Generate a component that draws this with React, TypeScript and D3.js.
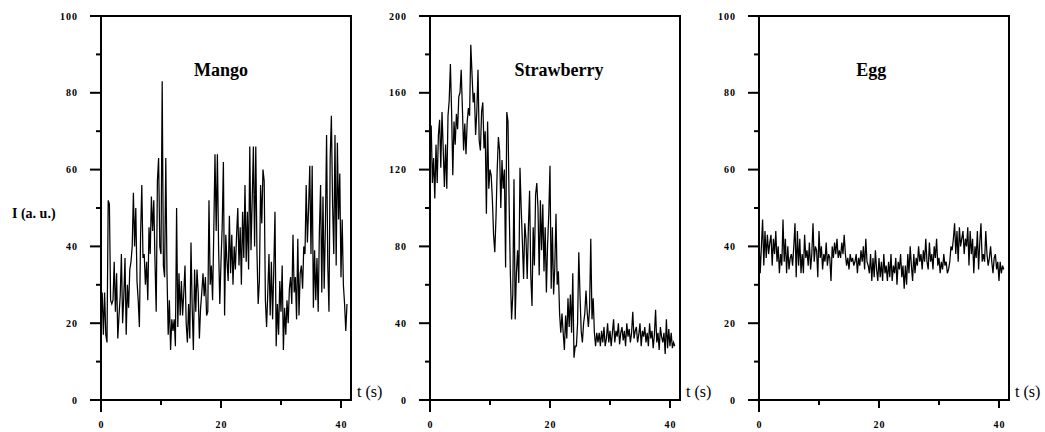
import React from "react";
import * as d3 from "d3";

const TIME_STEP = 0.2;

const mango = [
  20, 28, 17, 28, 17, 15, 52, 51, 26, 25,
  26, 36, 23, 33, 16, 22, 27, 38, 20, 27,
  37, 17, 30, 24, 34, 36, 40, 54, 40, 50,
  31, 26, 19, 43, 56, 37, 38, 30, 36, 26,
  45, 38, 53, 44, 52, 36, 23, 57, 63, 40,
  38, 83, 35, 32, 63, 33, 17, 26, 13, 21,
  18, 21, 14, 50, 19, 33, 22, 31, 22, 28,
  35, 20, 15, 25, 16, 41, 24, 13, 34, 23,
  34, 28, 16, 24, 28, 33, 27, 32, 22, 23,
  52, 30, 35, 26, 44, 64, 44, 64, 40, 25,
  36, 45, 62, 22, 43, 36, 31, 48, 33, 43,
  30, 40, 34, 43, 50, 35, 45, 30, 49, 37,
  56, 36, 49, 34, 66, 39, 52, 66, 40, 66,
  38, 25, 31, 56, 46, 60, 57, 26, 19, 28,
  38, 22, 36, 21, 34, 49, 14, 25, 17, 31,
  23, 35, 13, 24, 17, 26, 20, 29, 32, 25,
  43, 28, 32, 21, 42, 22, 33, 35, 29, 40,
  38, 56, 41, 50, 61, 38, 61, 24, 39, 26,
  37, 23, 44, 56, 28, 53, 29, 45, 69, 35,
  23, 63, 74, 51, 38, 69, 35, 67, 47, 59,
  32, 47, 30, 25, 18, 25,
];

const strawberry = [
  130, 143, 113, 126, 105, 133, 113, 138, 146, 121,
  150, 131, 111, 133, 110, 148, 156, 175, 150, 117,
  145, 133, 149, 141, 158, 160, 172, 152, 130, 144,
  128, 145, 152, 148, 185, 170, 155, 160, 138, 150,
  172, 135, 130, 150, 155, 131, 140, 97, 145, 110,
  120, 117, 104, 86, 77, 95, 120, 137, 130, 100,
  125, 110, 120, 69, 150, 145, 100, 65, 42, 55,
  115, 42, 66, 78, 61, 121, 100, 82, 63, 92,
  84, 63, 90, 109, 65, 49, 90, 70, 107, 113,
  100, 65, 104, 78, 102, 67, 90, 56, 81, 97,
  122, 58, 90, 55, 69, 97, 60, 67, 45, 35,
  45, 35, 26, 44, 32, 53, 38, 55, 35, 66,
  22, 28, 28, 40, 77, 55, 36, 30, 40, 45,
  57, 46, 38, 48, 84, 42, 53, 35, 28, 35,
  30, 35, 28, 36, 30, 38, 28, 32, 40, 30,
  36, 28, 35, 42, 30, 36, 33, 40, 29, 35,
  38, 31, 36, 28, 40, 33, 37, 30, 35, 46,
  32, 36, 38, 30, 34, 40, 28, 36, 33, 38,
  30, 35, 28, 40, 32, 36, 27, 34, 47, 30,
  35, 26, 38, 33, 30, 35, 24, 42, 27, 37,
  28, 35, 27, 30, 28,
];

const egg = [
  42, 33, 40, 47, 35, 44, 37, 43, 38, 41,
  43, 35, 42, 38, 44, 36, 40, 33, 38, 35,
  47, 36, 42, 33, 40, 34, 37, 38, 35, 40,
  46, 32, 44, 35, 42, 33, 38, 33, 43, 37,
  39, 35, 41, 34, 38, 46, 36, 40, 39, 32,
  44, 37, 40, 34, 38, 36, 41, 35, 38, 37,
  31, 40, 37, 41, 38, 42, 37, 39, 37, 41,
  38, 43, 38, 35, 37, 34, 38, 36, 37, 35,
  36, 38, 33, 37, 35, 39, 36, 40, 34, 42,
  36, 35, 33, 38, 31, 37, 32, 39, 34, 31,
  37, 32, 36, 31, 38, 33, 35, 31, 36, 32,
  38, 31, 35, 33, 37, 30, 36, 34, 38, 32,
  35, 29, 35, 30, 38, 33, 40, 35, 31, 38,
  33, 37, 35, 40, 36, 38, 34, 39, 36, 42,
  36, 34, 41, 36, 38, 34, 40, 37, 42, 35,
  37, 33, 36, 34, 38, 35, 36, 33, 34, 36,
  40, 39, 42, 46, 38, 44, 36, 45, 40, 42,
  44, 38, 42, 40, 45, 35, 44, 38, 42, 33,
  40, 37, 44, 34, 41, 46, 36, 38, 36, 44,
  38, 35, 37, 40, 36, 33, 37, 38, 34, 36,
  31, 36, 33, 35, 34,
];

const panelTitles = ["Mango", "Strawberry", "Egg"];
const panelSeries = [mango, strawberry, egg];
const yDomainMax = [100, 200, 100];
const yMajorTicks = [
  [0, 20, 40, 60, 80, 100],
  [0, 40, 80, 120, 160, 200],
  [0, 20, 40, 60, 80, 100],
];
const yMinorTicks = [
  [10, 30, 50, 70, 90],
  [20, 60, 100, 140, 180],
  [10, 30, 50, 70, 90],
];
const xMajorTicks = [0, 20, 40];
const xMinorTicks = [10, 30];
const xDomainMax = 41.67;
const titleAtTime = [20, 21.5, 18.7];
const yAxisLabel = "I (a. u.)";
const xAxisLabel = "t (s)";

// ---- layout ----
const W = 1045;
const H = 432;
const panelLeft = [101, 430, 759];
const panelWidth = 250;
const top = 16;
const bottom = 400;

const serif = "'Liberation Serif', 'Times New Roman', serif";

function Panel({ idx }: { idx: number }) {
  const x0 = panelLeft[idx];
  const x = d3.scaleLinear().domain([0, xDomainMax]).range([x0, x0 + panelWidth]);
  const y = d3.scaleLinear().domain([0, yDomainMax[idx]]).range([bottom, top]);
  const data = panelSeries[idx].map((v, i) => [i * TIME_STEP, v] as [number, number]);
  const line = d3
    .line<[number, number]>()
    .x((d) => x(d[0]))
    .y((d) => y(d[1]));
  const xr = x0 + panelWidth;
  return (
    <g>
      <path d={line(data) || ""} fill="none" stroke="#000" strokeWidth={1.25} strokeLinejoin="miter" />
      {/* frame */}
      <rect x={x0} y={top} width={panelWidth} height={bottom - top} fill="none" stroke="#000" strokeWidth={2} />
      {/* y ticks */}
      {yMajorTicks[idx].map((t) => (
        <g key={"ym" + t}>
          <line x1={x0 - 11} x2={x0} y1={y(t)} y2={y(t)} stroke="#000" strokeWidth={2} />
          <text
            x={x0 - 23}
            y={y(t)}
            dy="0.35em"
            textAnchor="end"
            fontFamily={serif}
            fontWeight="bold"
            fontSize={10}
            letterSpacing={1}
          >
            {t}
          </text>
        </g>
      ))}
      {yMinorTicks[idx].map((t) => (
        <line key={"yn" + t} x1={x0 - 5} x2={x0} y1={y(t)} y2={y(t)} stroke="#000" strokeWidth={2} />
      ))}
      {/* x ticks */}
      {xMajorTicks.map((t) => (
        <g key={"xm" + t}>
          <line
            x1={x(t)}
            x2={x(t)}
            y1={bottom}
            y2={bottom + (t === 0 ? 12 : 8)}
            stroke="#000"
            strokeWidth={2}
          />
          <text
            x={x(t) + 0.5}
            y={428}
            textAnchor="middle"
            fontFamily={serif}
            fontWeight="bold"
            fontSize={10}
            letterSpacing={1}
          >
            {t}
          </text>
        </g>
      ))}
      {xMinorTicks.map((t) => (
        <line key={"xn" + t} x1={x(t)} x2={x(t)} y1={bottom} y2={bottom + 5} stroke="#000" strokeWidth={2} />
      ))}
      {/* title */}
      <text
        x={x(titleAtTime[idx])}
        y={76}
        textAnchor="middle"
        fontFamily={serif}
        fontWeight="bold"
        fontSize={18}
      >
        {panelTitles[idx]}
      </text>
      {/* x axis label */}
      <text x={xr + 6} y={397} fontFamily={serif} fontSize={16}>
        {xAxisLabel}
      </text>
    </g>
  );
}

export default function App() {
  return (
    <svg
      width={W}
      height={H}
      viewBox={`0 0 ${W} ${H}`}
      style={{ position: "absolute", left: 0, top: 0, display: "block", background: "#fff" }}
    >
      <rect x={0} y={0} width={W} height={H} fill="#fff" />
      {panelTitles.map((_, i) => (
        <Panel key={i} idx={i} />
      ))}
      <text x={12} y={218} fontFamily={serif} fontWeight="bold" fontSize={14}>
        {yAxisLabel}
      </text>
    </svg>
  );
}
